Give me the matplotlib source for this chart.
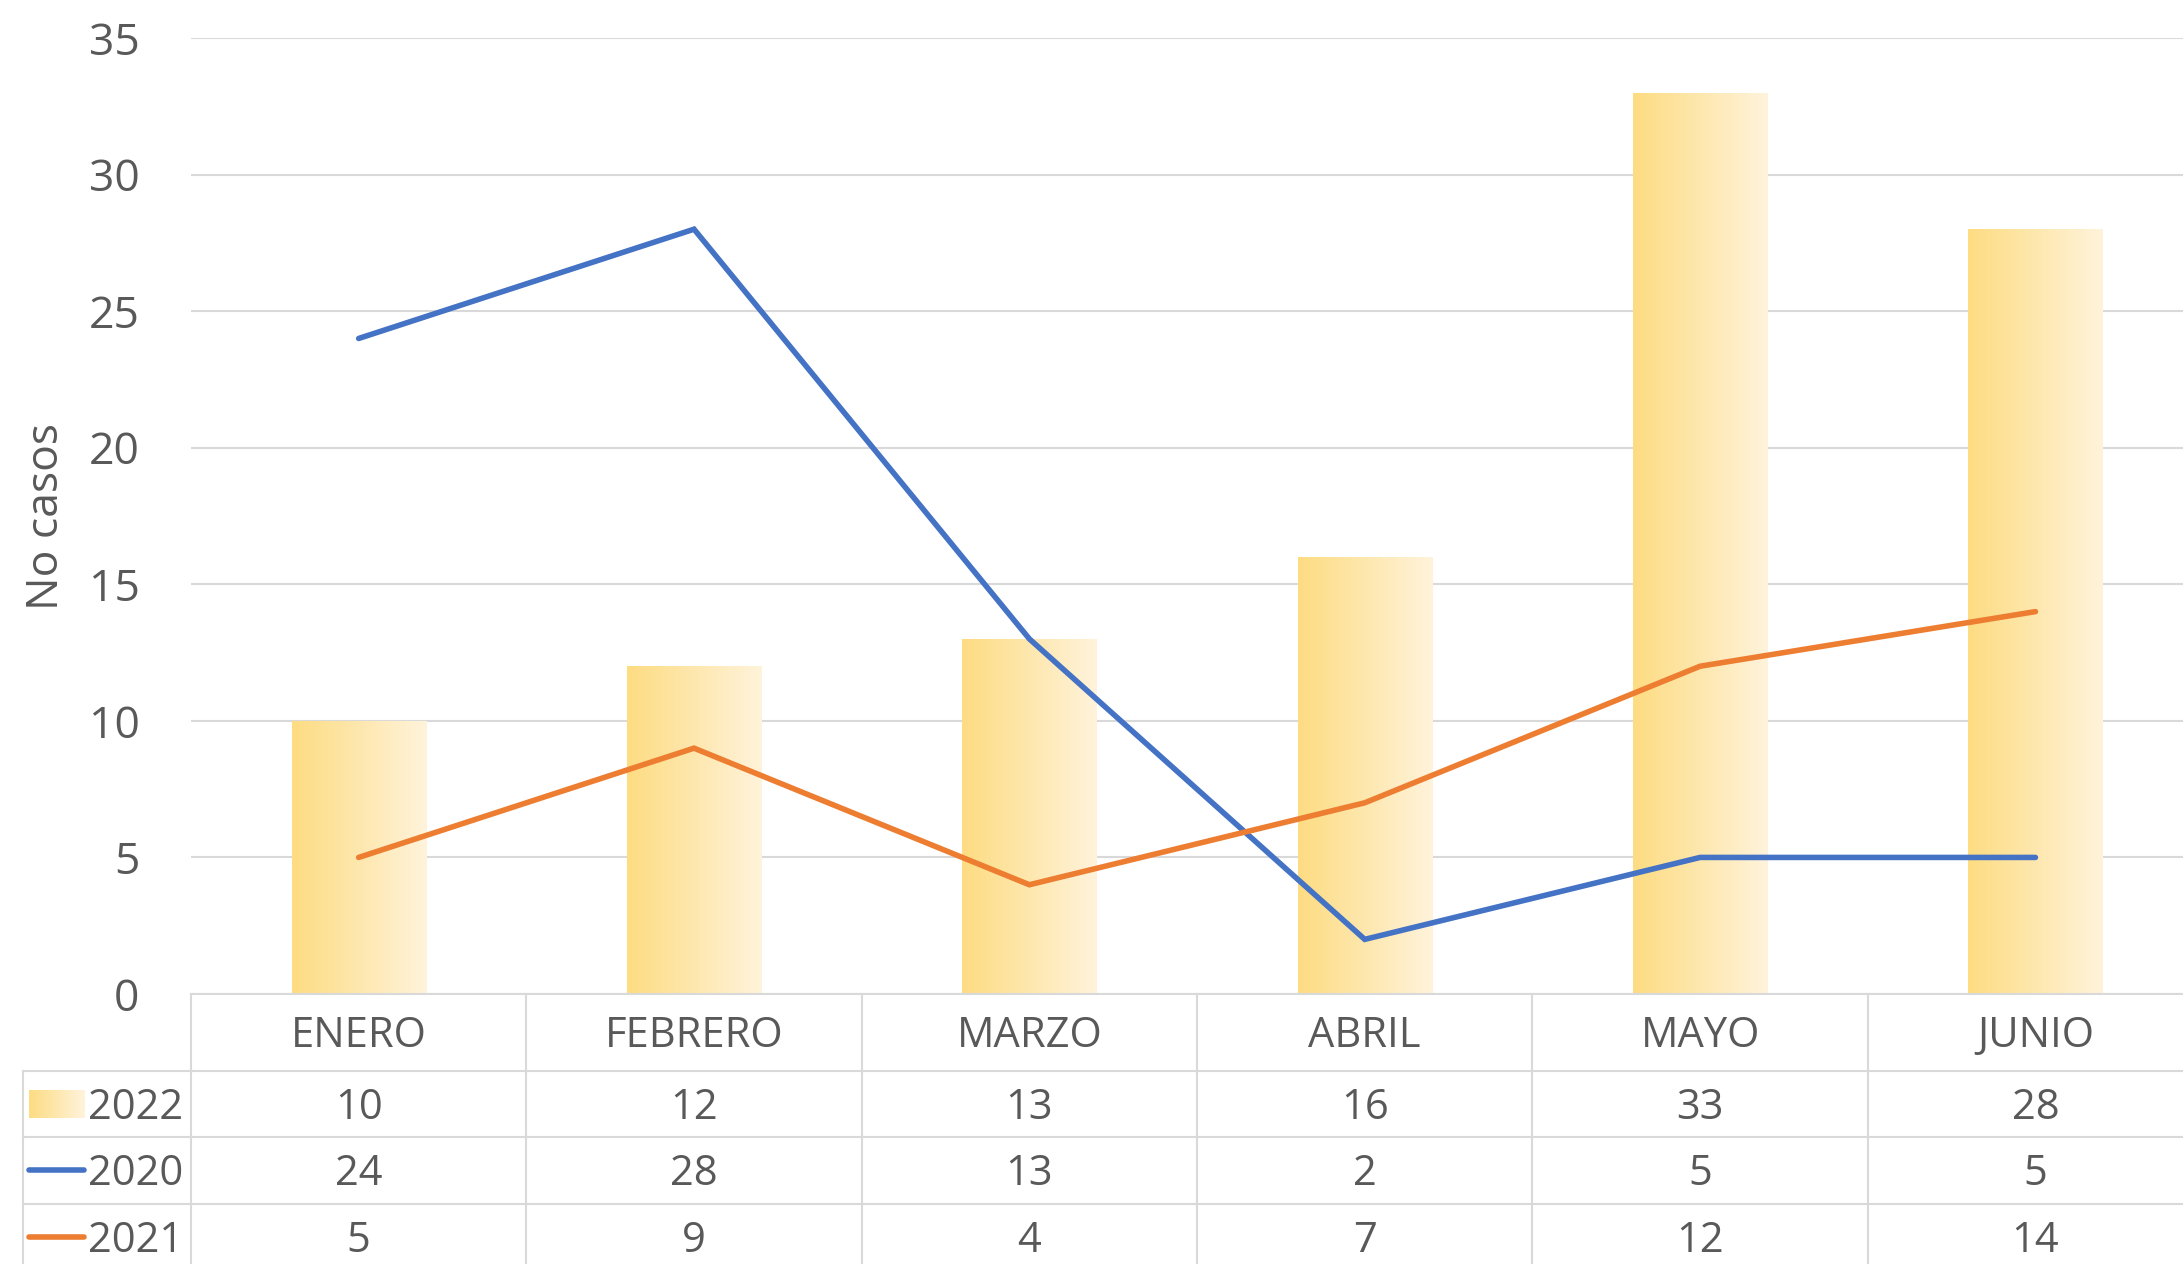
import numpy as np
import matplotlib.pyplot as plt
from matplotlib.colors import LinearSegmentedColormap

meses = ['ENERO', 'FEBRERO', 'MARZO', 'ABRIL', 'MAYO', 'JUNIO']
casos_2022 = [10, 12, 13, 16, 33, 28]
casos_2020 = [24, 28, 13, 2, 5, 5]
casos_2021 = [5, 9, 4, 7, 12, 14]
series = ['2022', '2020', '2021']

txt = '#595959'
grid = '#D9D9D9'
azul = '#4472C4'
naranja = '#ED7D31'
grad = LinearSegmentedColormap.from_list('g', ['#FDDC82', '#FFF3DB'])

plt.rcParams['font.family'] = ['Open Sans', 'DejaVu Sans']

W, H = 2183, 1264
fig = plt.figure(figsize=(W / 100, H / 100), dpi=100)
ax = fig.add_axes([191 / W, 1 - 994 / H, 1 - 191 / W, (994 - 38) / H])

x = np.arange(len(meses))
xlim = (-0.5, 5.44)

bars = ax.bar(x, casos_2022, width=0.4, color='none', zorder=2)
g = np.linspace(0, 1, 256).reshape(1, -1)
for b in bars:
    x0, y0 = b.get_x(), b.get_y()
    im = ax.imshow(g, cmap=grad, aspect='auto', zorder=2,
                   extent=[x0, x0 + b.get_width(), y0, y0 + b.get_height()])
    im.set_clip_path(b)

lw = 4.0
ax.plot(x, casos_2020, color=azul, lw=lw, solid_capstyle='round',
        solid_joinstyle='miter', zorder=3)
ax.plot(x, casos_2021, color=naranja, lw=lw, solid_capstyle='round',
        solid_joinstyle='miter', zorder=3)

ax.set_xlim(*xlim)
ax.set_ylim(0, 35)
ax.set_yticks(range(0, 36, 5))
ax.set_xticks([])
ax.grid(axis='y', color=grid, lw=1.5, zorder=0)
ax.set_axisbelow(True)
for s in ax.spines.values():
    s.set_visible(False)
ax.tick_params(axis='y', length=0, pad=37, labelsize=32, labelcolor=txt)
ax.set_ylabel('No casos', fontsize=32, color=txt, labelpad=14)

# tabla de datos
tax = fig.add_axes([191 / W, 0, 1 - 191 / W, 270 / H])
tax.set_xlim(*xlim)
tax.set_ylim(1264, 994)
tax.axis('off')

rows_y = [994, 1071, 1137, 1204, 1271]
tax.plot(xlim, [rows_y[0]] * 2, color=grid, lw=1.5, clip_on=False)
for yy in rows_y[1:4]:
    tax.plot([-1.0, xlim[1]], [yy] * 2, color=grid, lw=1.5, clip_on=False)
for i in range(len(meses) + 1):
    tax.plot([i - 0.5] * 2, [rows_y[0], 1264], color=grid, lw=1.5, clip_on=False)
tax.plot([-1.0] * 2, [rows_y[1], 1264], color=grid, lw=1.5, clip_on=False)

for i, m in enumerate(meses):
    tax.text(i, (rows_y[0] + rows_y[1]) / 2 + 4, m, ha='center', va='center',
             fontsize=30, color=txt)

vals = [casos_2022, casos_2020, casos_2021]
for r, (name, v) in enumerate(zip(series, vals)):
    yc = (rows_y[r + 1] + rows_y[r + 2]) / 2 + 4
    for i, val in enumerate(v):
        tax.text(i, yc, str(val), ha='center', va='center', fontsize=30, color=txt)
    tax.text(-0.524, yc, name, ha='right', va='center', fontsize=30, color=txt)

# claves de la leyenda
yc0 = (rows_y[1] + rows_y[2]) / 2
tax.imshow(g, cmap=grad, aspect='auto', extent=[-0.983, -0.818, yc0 + 14, yc0 - 14],
           clip_on=False, zorder=2)
tax.set_xlim(*xlim)
tax.set_ylim(1264, 994)
for r, col in [(1, azul), (2, naranja)]:
    yc = (rows_y[r + 1] + rows_y[r + 2]) / 2
    tax.plot([-0.983, -0.818], [yc, yc], color=col, lw=lw, solid_capstyle='round',
             clip_on=False)

fig.savefig('out.png', dpi=100)
